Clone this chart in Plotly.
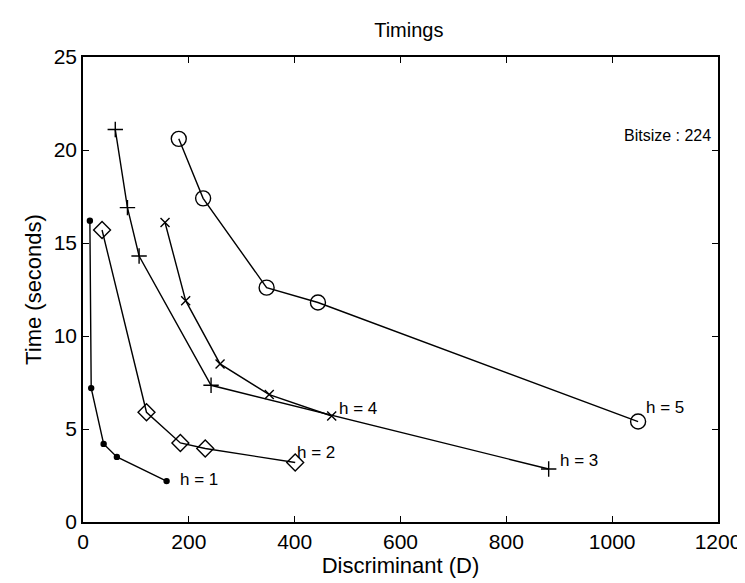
import plotly.graph_objects as go

# h = 1 (dots)
h1_x = [13, 15.5, 39, 64, 158]
h1_y = [16.2, 7.2, 4.2, 3.5, 2.2]
# h = 2 (diamonds)
h2_x = [36, 120, 184, 231, 401]
h2_y = [15.7, 5.9, 4.25, 3.95, 3.2]
# h = 3 (plus)
h3_x = [61, 84, 106, 242, 880]
h3_y = [21.1, 16.9, 14.3, 7.35, 2.85]
# h = 4 (x)
h4_x = [155, 194, 259, 352, 470]
h4_y = [16.1, 11.9, 8.5, 6.85, 5.7]
# h = 5 (circles)
h5_x = [181, 227, 347, 444, 1049]
h5_y = [20.6, 17.4, 12.6, 11.8, 5.4]

labels = ["h = 1", "h = 2", "h = 3", "h = 4", "h = 5"]
x_ticks = [0, 200, 400, 600, 800, 1000, 1200]
y_ticks = [0, 5, 10, 15, 20, 25]

series = [
    (h1_x, h1_y, "circle", 5),
    (h2_x, h2_y, "diamond-open", 13),
    (h3_x, h3_y, "cross-thin-open", 11),
    (h4_x, h4_y, "x-thin-open", 9),
    (h5_x, h5_y, "circle-open", 15),
]
# pixel offsets of the end labels from the last point
label_shift = [(11, 2), (0, 10), (9, 8), (5, 7), (6, 14)]

font = "Liberation Sans, Arial, Helvetica, sans-serif"
fig = go.Figure()
for (xs, ys, sym, sz), lab, (dx, dy) in zip(series, labels, label_shift):
    fig.add_trace(go.Scatter(
        x=xs, y=ys, mode="lines+markers", name=lab,
        line=dict(color="black", width=1.4),
        marker=dict(symbol=sym, size=sz, color="black",
                    line=dict(color="black", width=1.4)),
        showlegend=False))
    fig.add_annotation(x=xs[-1], y=ys[-1], text=lab, showarrow=False,
                       xanchor="left", yanchor="middle", xshift=dx, yshift=dy,
                       font=dict(size=17, color="black", family=font))

fig.add_annotation(x=1190, y=20.8, text="Bitsize : 224", showarrow=False,
                   xanchor="right", yanchor="middle",
                   font=dict(size=16, color="black", family=font))

axis_common = dict(showgrid=False, zeroline=False, showline=True, linecolor="black",
                   linewidth=1.5, mirror="ticks", ticks="inside", ticklen=6,
                   tickwidth=1.2, tickcolor="black",
                   tickfont=dict(size=21, color="black", family=font))
fig.update_xaxes(range=[0, 1200], tickvals=x_ticks,
                 title=dict(text="Discriminant (D)", font=dict(size=22, color="black", family=font), standoff=2),
                 **axis_common)
fig.update_yaxes(range=[0, 25], tickvals=y_ticks,
                 title=dict(text="Time (seconds)", font=dict(size=22, color="black", family=font), standoff=6),
                 **axis_common)
fig.update_layout(
    width=745, height=583,
    margin=dict(l=75, r=28, t=49, b=69),
    paper_bgcolor="white", plot_bgcolor="white",
    title=dict(text="Timings", x=0.538, xanchor="center", y=0.962, yanchor="middle",
               font=dict(size=20, color="black", family=font)),
)
fig.write_html("out.html")
